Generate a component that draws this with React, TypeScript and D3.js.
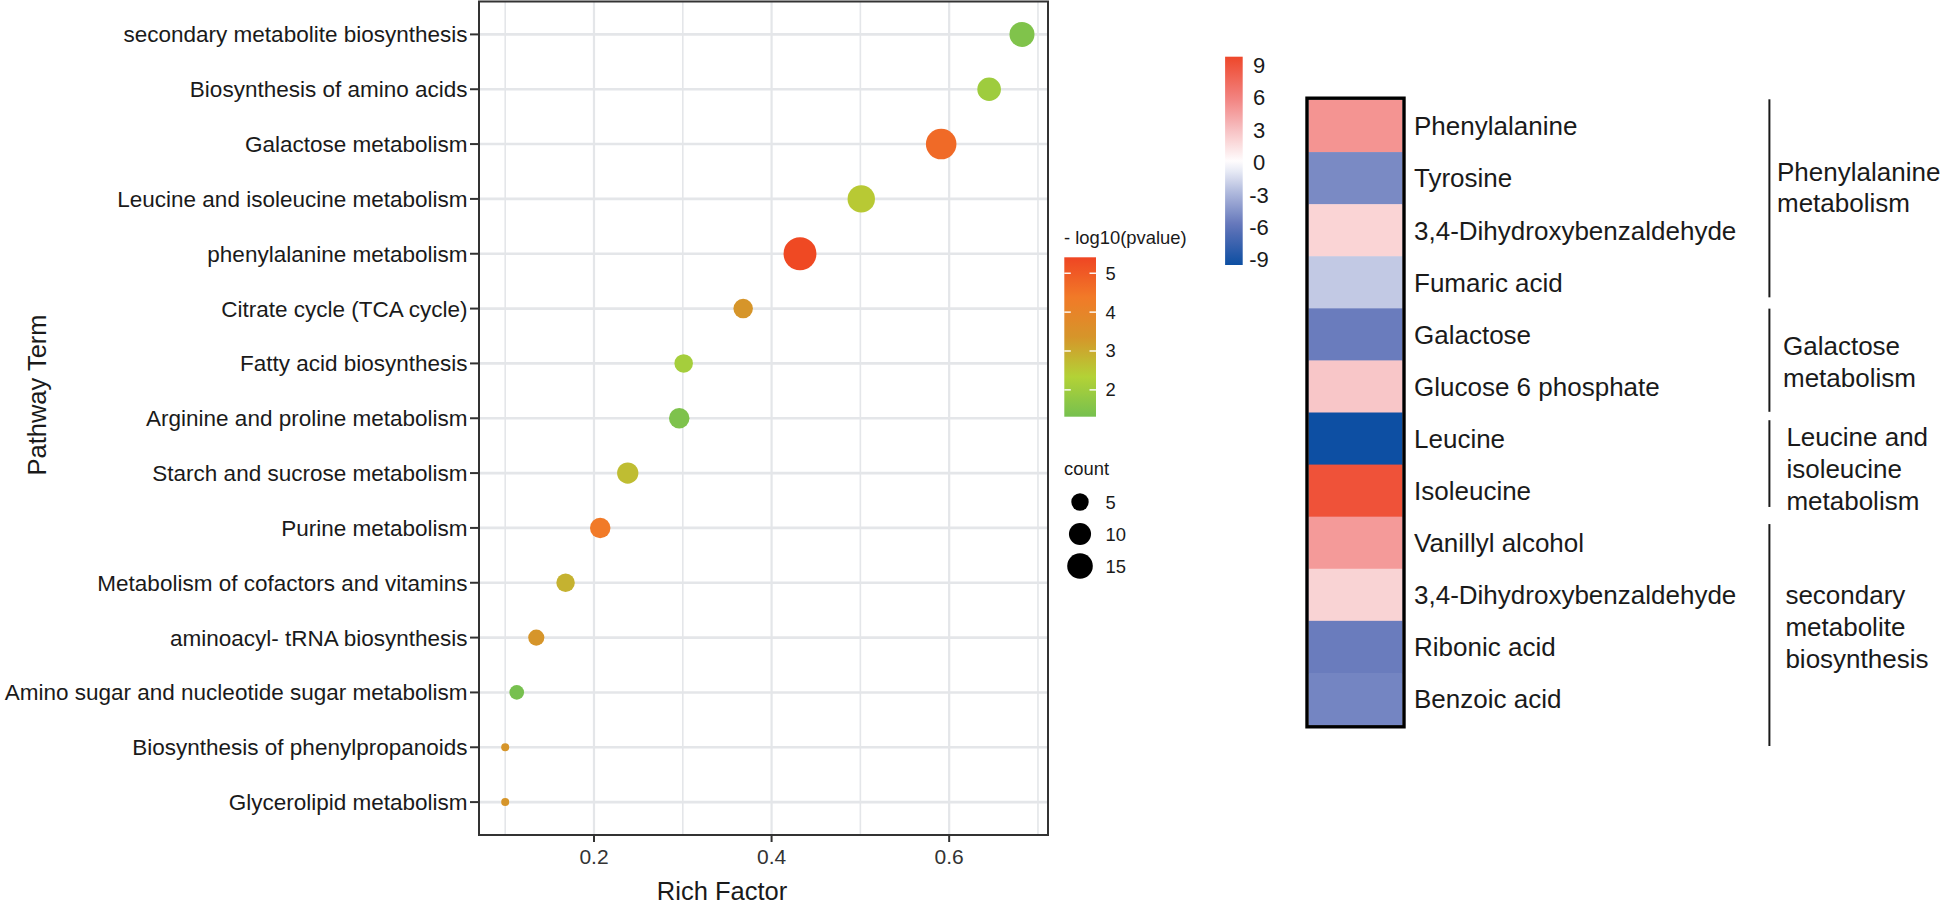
import React from 'react';
import * as d3 from 'd3';

// ---------- Data: enrichment bubble plot ----------
const pathways = [
  'secondary metabolite biosynthesis',
  'Biosynthesis of amino acids',
  'Galactose metabolism',
  'Leucine and isoleucine metabolism',
  'phenylalanine metabolism',
  'Citrate cycle (TCA cycle)',
  'Fatty acid biosynthesis',
  'Arginine and proline metabolism',
  'Starch and sucrose metabolism',
  'Purine metabolism',
  'Metabolism of cofactors and vitamins',
  'aminoacyl- tRNA biosynthesis',
  'Amino sugar and nucleotide sugar metabolism',
  'Biosynthesis of phenylpropanoids',
  'Glycerolipid metabolism',
];
const richFactor = [0.682, 0.645, 0.591, 0.501, 0.432, 0.368, 0.301, 0.296, 0.238, 0.207, 0.168, 0.135, 0.113, 0.1, 0.1];
const counts = [14, 12, 24, 18, 29, 7, 6, 8, 9, 8, 6, 4, 3, 1, 1];
const negLog10P = [1.47, 1.99, 4.69, 2.49, 5.33, 3.36, 2.1, 1.44, 2.68, 4.38, 2.87, 3.36, 1.33, 3.36, 3.36];
const xMajorTicks = [0.2, 0.4, 0.6];
const xMinorTicks = [0.1, 0.3, 0.5, 0.7];
const pTicks = [2, 3, 4, 5];
const countLegend = [5, 10, 15];

// ---------- Data: heatmap ----------
const metabolites = [
  'Phenylalanine', 'Tyrosine', '3,4-Dihydroxybenzaldehyde', 'Fumaric acid',
  'Galactose', 'Glucose 6 phosphate', 'Leucine', 'Isoleucine',
  'Vanillyl alcohol', '3,4-Dihydroxybenzaldehyde', 'Ribonic acid', 'Benzoic acid',
];
const heatValues = [5.1, -4.9, 2.05, -2.15, -5.55, 2.7, -9.5, 9.1, 4.8, 2.1, -5.55, -5.15];
const heatTicks = [9, 6, 3, 0, -3, -6, -9];
const groupLabels = [
  ['Phenylalanine', 'metabolism'],
  ['Galactose', 'metabolism'],
  ['Leucine and', 'isoleucine', 'metabolism'],
  ['secondary', 'metabolite', 'biosynthesis'],
];
const groupRows = [[0, 3], [4, 5], [6, 7], [8, 11]];

// ---------- Layout ----------
const W = 1944, H = 904;
const FONT = "'Liberation Sans', Arial, Helvetica, sans-serif";
const panel = { l: 479, r: 1048, t: 1.5, b: 835 };
const heat = { x0: 1308.5, x1: 1402.5, t: 100, b: 725 };
// bracket insets [top, bottom] px, label offsets [dx, dyCenter]
const groupLayout = [
  { bt: -0.7, bb: -11, dx: 7.6, dy: -17 },
  { bt: 0.3, bb: -0.7, dx: 13.6, dy: 1 },
  { bt: 7.7, bb: -9.7, dx: 17, dy: 4 },
  { bt: 7.4, bb: 21, dx: 16, dy: 5.7 },
];

export default function App() {
  const x = d3.scaleLinear().domain([0.0705, 0.7113]).range([panel.l, panel.r]);
  const y = d3.scalePoint<string>().domain(pathways).range([panel.t, panel.b]).padding(0.6);
  const rS = d3.scaleSqrt().domain([0, 28]).range([0, 12.45]);
  const radius = (c: number) => 4 + rS(c - 1);
  const pDomain = [1.31, 2.335, 3.36, 4.385, 5.41];
  const color = d3
    .scaleLinear<string>()
    .domain(pDomain)
    .range(['#76c04f', '#b3d236', '#d6952a', '#f17a28', '#ef4523'])
    .interpolate(d3.interpolateRgb);
  const barY = d3.scaleLinear().domain([1.31, 5.41]).range([416.7, 257.3]);
  const bar = { x: 1064.3, w: 31.7 };

  const heatColor = d3
    .scaleLinear<string>()
    .domain([-9.6, -6, -3, 0, 3, 6, 9.6])
    .range(['#0b4ea2', '#5f72b8', '#aab4da', '#ffffff', '#f7c0c2', '#f2817e', '#ee4a2e'])
    .interpolate(d3.interpolateRgb);
  const rowY = d3.scaleBand<number>().domain(d3.range(metabolites.length)).range([heat.t, heat.b]);
  const hLegY = d3.scaleLinear().domain([9, -9]).range([65, 259.3]);
  const hBar = { x: 1225.1, w: 17.6, t: 56.7, b: 265 };
  const bracketX = 1769.4;

  const gradStops = d3.range(0, 1.0001, 0.05);

  return (
    <div style={{ position: 'absolute', left: 0, top: 0 }}>
      <style>{'body{margin:0}'}</style>
      <svg width={W} height={H} style={{ display: 'block', background: '#fff' }} fontFamily={FONT}>
        <defs>
          <linearGradient id="pgrad" x1="0" y1="1" x2="0" y2="0">
            {gradStops.map((t) => (
              <stop key={t} offset={t} stopColor={color(1.31 + t * (5.41 - 1.31))} />
            ))}
          </linearGradient>
          <linearGradient id="hgrad" x1="0" y1="1" x2="0" y2="0">
            {gradStops.map((t) => {
              const v = hLegY.invert(hBar.b + t * (hBar.t - hBar.b));
              return <stop key={t} offset={t} stopColor={heatColor(v)} />;
            })}
          </linearGradient>
        </defs>

        {/* ---------- Bubble plot ---------- */}
        <rect x={panel.l} y={panel.t} width={panel.r - panel.l} height={panel.b - panel.t} fill="#fff" />
        {xMinorTicks.map((t) => (
          <line key={'mn' + t} x1={x(t)} x2={x(t)} y1={panel.t} y2={panel.b} stroke="#e4e6e9" strokeWidth={1.6} />
        ))}
        {xMajorTicks.map((t) => (
          <line key={'mj' + t} x1={x(t)} x2={x(t)} y1={panel.t} y2={panel.b} stroke="#e4e6e9" strokeWidth={2.2} />
        ))}
        {pathways.map((p) => (
          <line key={'hg' + p} x1={panel.l} x2={panel.r} y1={y(p)} y2={y(p)} stroke="#e4e6e9" strokeWidth={2.6} />
        ))}
        {pathways.map((p, i) => (
          <circle key={'pt' + p} cx={x(richFactor[i])} cy={y(p)} r={radius(counts[i])} fill={color(negLog10P[i])} />
        ))}
        <rect x={panel.l} y={panel.t} width={panel.r - panel.l} height={panel.b - panel.t} fill="none" stroke="#333" strokeWidth={2} />
        {/* y axis */}
        {pathways.map((p) => (
          <g key={'yl' + p}>
            <line x1={panel.l - 9} x2={panel.l} y1={y(p)} y2={y(p)} stroke="#333" strokeWidth={2} />
            <text x={panel.l - 11.5} y={(y(p) as number) + 8} textAnchor="end" fontSize={22.5} fill="#1a1a1a">
              {p}
            </text>
          </g>
        ))}
        {/* x axis */}
        {xMajorTicks.map((t) => (
          <g key={'xl' + t}>
            <line x1={x(t)} x2={x(t)} y1={panel.b} y2={panel.b + 7} stroke="#333" strokeWidth={2} />
            <text x={x(t)} y={panel.b + 28.5} textAnchor="middle" fontSize={21} fill="#333">
              {t.toFixed(1)}
            </text>
          </g>
        ))}
        <text x={722} y={900} textAnchor="middle" fontSize={25.5} fill="#1a1a1a">Rich Factor</text>
        <text transform="translate(45.5,395) rotate(-90)" textAnchor="middle" fontSize={25.5} fill="#1a1a1a">
          Pathway Term
        </text>

        {/* colour legend */}
        <text x={1064} y={244} fontSize={18.4} fill="#1a1a1a">- log10(pvalue)</text>
        <rect x={bar.x} y={barY(5.41)} width={bar.w} height={barY(1.31) - barY(5.41)} fill="url(#pgrad)" />
        {pTicks.map((t) => (
          <g key={'pt' + t}>
            <line x1={bar.x} x2={bar.x + 6.5} y1={barY(t)} y2={barY(t)} stroke="#fff" strokeWidth={1.4} />
            <line x1={bar.x + bar.w - 6.5} x2={bar.x + bar.w} y1={barY(t)} y2={barY(t)} stroke="#fff" strokeWidth={1.4} />
            <text x={1105.5} y={barY(t) + 6.5} fontSize={18.4} fill="#1a1a1a">{t}</text>
          </g>
        ))}
        {/* size legend */}
        <text x={1064} y={475} fontSize={18.4} fill="#1a1a1a">count</text>
        {countLegend.map((c, i) => (
          <g key={'cl' + c}>
            <circle cx={1080} cy={502 + i * 32} r={radius(c)} fill="#000" />
            <text x={1105.5} y={502 + i * 32 + 6.5} fontSize={18.4} fill="#1a1a1a">{c}</text>
          </g>
        ))}

        {/* ---------- Heatmap ---------- */}
        <rect x={hBar.x} y={hBar.t} width={hBar.w} height={hBar.b - hBar.t} fill="url(#hgrad)" />
        {heatTicks.map((t) => (
          <text key={'ht' + t} x={1259} y={hLegY(t) + 8} textAnchor="middle" fontSize={22} fill="#1a1a1a">
            {t}
          </text>
        ))}
        {metabolites.map((m, i) => (
          <rect
            key={'hc' + i}
            x={heat.x0}
            y={rowY(i)}
            width={heat.x1 - heat.x0}
            height={rowY.bandwidth() + 0.5}
            fill={heatColor(heatValues[i])}
          />
        ))}
        <rect x={heat.x0 - 1.5} y={heat.t - 1.8} width={heat.x1 - heat.x0 + 3} height={heat.b - heat.t + 3.6} fill="none" stroke="#000" strokeWidth={3.4} />
        {metabolites.map((m, i) => (
          <text key={'hl' + i} x={1414} y={(rowY(i) as number) + rowY.bandwidth() / 2 + 9.3} fontSize={26} fill="#1a1a1a">
            {m}
          </text>
        ))}
        {groupRows.map(([s, e], gi) => {
          const L = groupLayout[gi];
          const top = rowY(s) as number;
          const bot = (rowY(e) as number) + rowY.bandwidth();
          const mid = (top + bot) / 2 + L.dy;
          const lines = groupLabels[gi];
          const lh = 31.7;
          return (
            <g key={'g' + gi}>
              <line x1={bracketX} x2={bracketX} y1={top + L.bt} y2={bot + L.bb} stroke="#1a1a1a" strokeWidth={2} />
              {lines.map((ln, li) => (
                <text
                  key={li}
                  x={bracketX + L.dx}
                  y={mid + (li - (lines.length - 1) / 2) * lh + 9.3}
                  fontSize={26}
                  fill="#1a1a1a"
                >
                  {ln}
                </text>
              ))}
            </g>
          );
        })}
      </svg>
    </div>
  );
}
